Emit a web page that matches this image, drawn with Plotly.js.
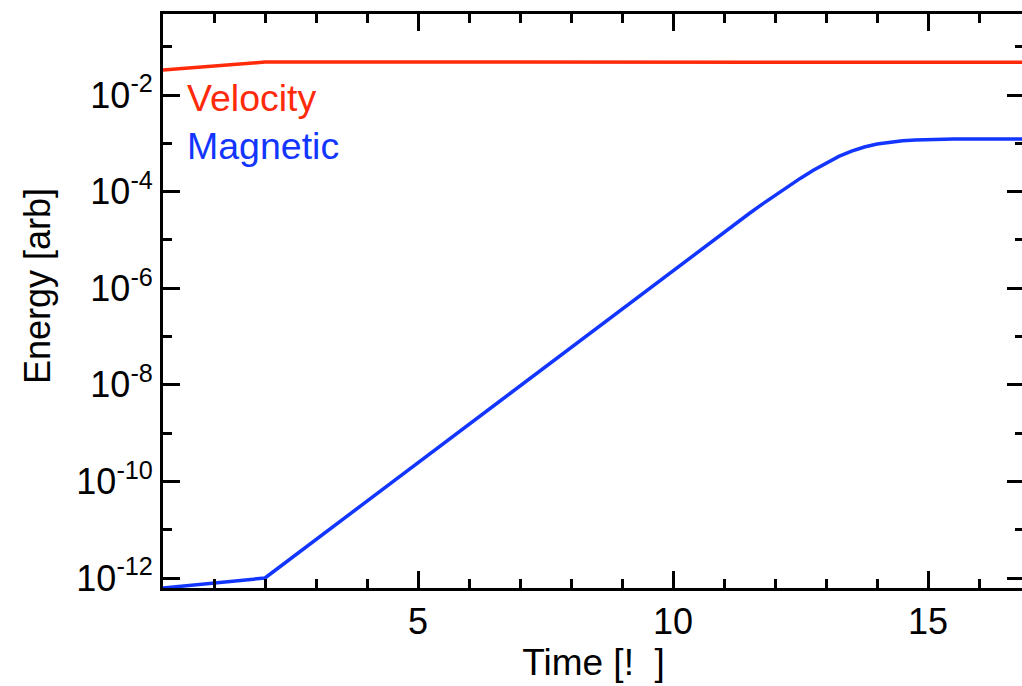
<!DOCTYPE html>
<html>
<head>
<meta charset="utf-8">
<script src="https://cdn.plot.ly/plotly-3.0.1.min.js"></script>
<style>
  html, body { margin: 0; padding: 0; background: #fff; overflow: hidden; }
  #chart { width: 1026px; height: 686px; }
</style>
</head>
<body>
<div id="chart"></div>
<script>
// ---- data ----
const seriesNames = ["Velocity", "Magnetic"];
const seriesColors = ["#ff2a0a", "#1236ff"];

const timeVelocity = [0, 2, 6, 10, 13, 14, 15, 16.88];
const velocity = [0.033, 0.048, 0.048, 0.048, 0.048, 0.0478, 0.0475, 0.0475];

const timeMagnetic = [0, 2, 4, 6, 8, 10, 11, 11.25, 11.5, 11.75, 12, 12.25, 12.5, 12.75, 13, 13.25, 13.5, 13.75, 14, 14.25, 14.5, 14.75, 15, 15.5, 16, 16.88];
const magnetic = [6.2e-13, 1.0e-12, 3.91e-11, 1.53e-9, 5.97e-8, 2.33e-6, 1.459e-5, 2.29e-5, 3.56e-5, 5.50e-5, 8.41e-5, 1.27e-4, 1.90e-4, 2.77e-4, 3.94e-4, 5.35e-4, 6.89e-4, 8.38e-4, 9.64e-4, 1.059e-3, 1.127e-3, 1.169e-3, 1.197e-3, 1.222e-3, 1.230e-3, 1.230e-3];

const xTickVals = [5, 10, 15];
const xTickText = ["5", "10", "15"];
const yTickVals = [1e-12, 1e-10, 1e-8, 1e-6, 1e-4, 1e-2];
const yTickText = ["10<sup>-12</sup>", "10<sup>-10</sup>", "10<sup>-8</sup>", "10<sup>-6</sup>", "10<sup>-4</sup>", "10<sup>-2</sup>"];
const yMinorVals = [1e-11, 1e-9, 1e-7, 1e-5, 1e-3, 1e-1];

const xTitle = "Time [!  ]";
const yTitle = "Energy [arb]";

// ---- chart ----
const FONT = "Liberation Sans, Arial, Helvetica, sans-serif";

const traces = [
  { x: timeVelocity, y: velocity, name: seriesNames[0], mode: "lines", line: { color: seriesColors[0], width: 3.5 } },
  { x: timeMagnetic, y: magnetic, name: seriesNames[1], mode: "lines", line: { color: seriesColors[1], width: 3.5 } }
];

const axisCommon = {
  showgrid: false, zeroline: false,
  showline: true, linecolor: "#000", linewidth: 3,
  mirror: "allticks", ticks: "inside", ticklen: 17, tickwidth: 3, tickcolor: "#000",
  tickfont: { family: FONT, size: 36, color: "#000" }
};

const layout = {
  width: 1026, height: 686,
  margin: { l: 163, r: 2, t: 14, b: 98 },
  paper_bgcolor: "#fff", plot_bgcolor: "#fff",
  showlegend: false,
  font: { family: FONT, color: "#000" },
  xaxis: Object.assign({}, axisCommon, {
    range: [0, 16.88],
    tickmode: "array", tickvals: xTickVals, ticktext: xTickText,
    minor: { dtick: 1, tick0: 0, ticks: "inside", ticklen: 9, tickwidth: 3, tickcolor: "#000", showgrid: false },
    title: { text: xTitle, standoff: 0, font: { family: FONT, size: 37, color: "#000" } }
  }),
  yaxis: Object.assign({}, axisCommon, {
    type: "log",
    range: [-12.207, -0.323],
    tickmode: "array", tickvals: yTickVals, ticktext: yTickText,
    minor: { tickmode: "array", tickvals: yMinorVals, ticks: "inside", ticklen: 9, tickwidth: 3, tickcolor: "#000", showgrid: false }
  }),
  annotations: [
    { xref: "paper", yref: "paper", x: -0.1463, y: 0.526, xanchor: "center", yanchor: "middle", textangle: -90,
      text: yTitle, showarrow: false, font: { family: FONT, size: 36, color: "#000" } },
    { xref: "paper", yref: "paper", x: 0.026, y: 0.853, xanchor: "left", yanchor: "middle",
      text: seriesNames[0], showarrow: false, font: { family: FONT, size: 37.5, color: seriesColors[0] } },
    { xref: "paper", yref: "paper", x: 0.026, y: 0.77, xanchor: "left", yanchor: "middle",
      text: seriesNames[1], showarrow: false, font: { family: FONT, size: 37.5, color: seriesColors[1] } }
  ]
};

Plotly.newPlot("chart", traces, layout, { displayModeBar: false, staticPlot: true });
</script>
</body>
</html>
